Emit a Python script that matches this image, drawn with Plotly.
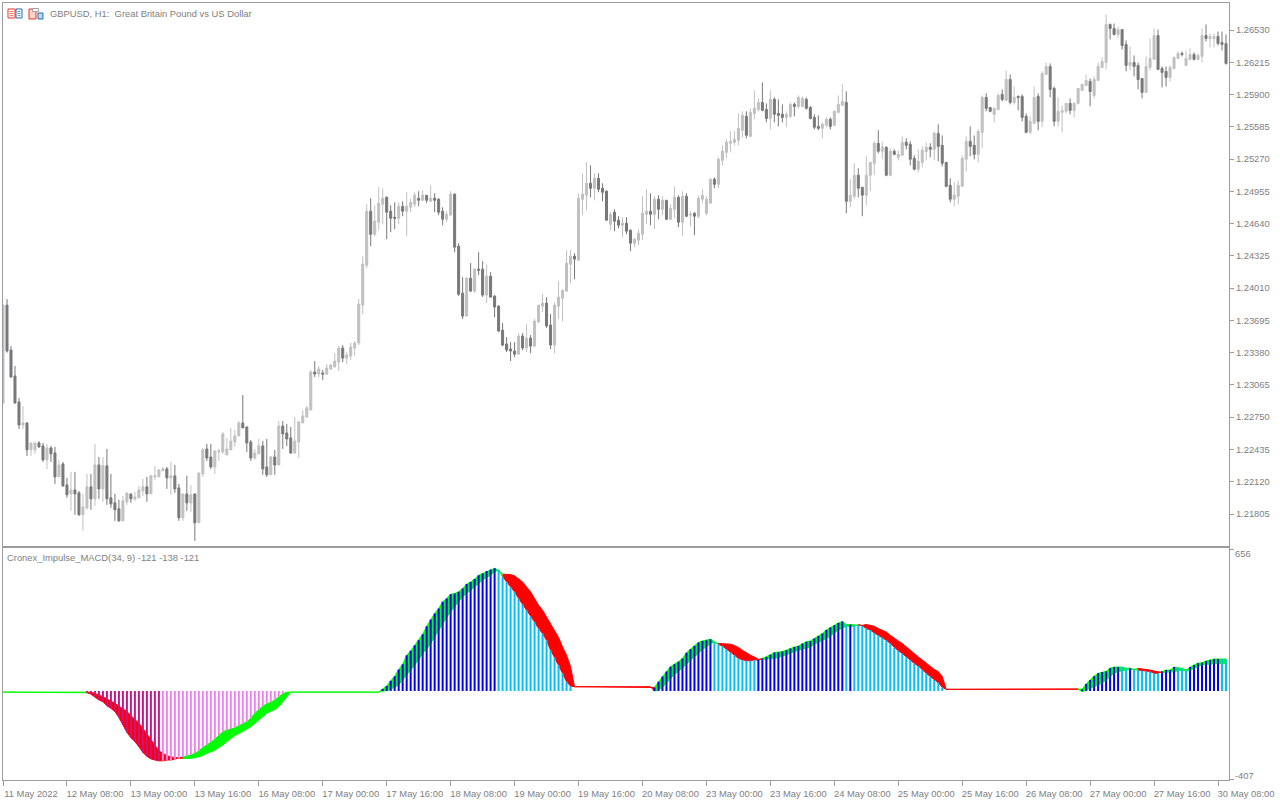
import plotly.graph_objects as go

# ---------- prices, in 1/100000 units ----------
high = [
123844,123903,123444,123250,122938,122860,122700,122499,122508,122518,
122499,122489,122470,122460,122333,122314,122158,122216,122216,122031,
122001,122196,122196,122489,122362,122362,122440,122196,122001,121943,
121982,122011,122001,122021,122080,122148,122167,122187,122275,122236,
122265,122265,122314,122284,122099,122001,122177,122089,122001,122206,
122450,122489,122489,122421,122440,122606,122548,122645,122625,122713,
122967,122655,122528,122440,122538,122518,122538,122372,122431,122713,
122713,122684,122655,122752,122713,122820,122860,123211,123298,123249,
123211,123269,123269,123376,123444,123454,123386,123474,123493,123903,
124322,124829,124887,124819,124995,124985,124907,124819,124848,124848,
124858,124946,124887,124946,124956,124965,124917,125014,124936,124887,
124800,124761,124956,124936,124449,124117,124117,124254,124205,124361,
124273,124244,124166,123942,123844,123669,123532,123483,123483,123571,
123571,123659,123552,123708,123844,123951,123922,123757,123874,124078,
123990,124380,124380,124351,124936,125128,125239,125209,125131,125131,
125034,124966,124751,124780,124712,124702,124702,124585,124497,124585,
124907,124975,124936,124907,124917,124907,124868,124829,125004,124917,
124956,124936,124761,124751,124917,124975,124907,125083,125092,125287,
125404,125463,125541,125541,125716,125736,125736,125765,125941,125862,
126018,125814,125941,125872,125853,125804,125736,125823,125823,125892,
125882,125872,125784,125707,125697,125628,125677,125677,125746,125892,
125999,125931,125073,125229,125180,124995,125297,125238,125443,125551,
125443,125394,125375,125365,125355,125492,125473,125443,125306,125365,
125394,125433,125424,125540,125609,125501,125238,125082,125043,125063,
125306,125492,125589,125501,125560,125891,125911,125774,125774,125911,
125950,126135,126096,125979,125891,125901,125716,125687,125979,125911,
126125,126213,126204,125979,125872,125794,125814,125862,125823,125960,
126008,126096,126057,126077,126213,126262,126681,126593,126593,126564,
126535,126428,126369,126281,126213,126057,126272,126447,126545,126535,
126174,126174,126184,126272,126320,126320,126330,126350,126311,126301,
126545,126584,126496,126496,126515,126515,126486]
body_top = [
123844,123844,123405,123152,122899,122694,122694,122499,122499,122499,
122470,122450,122450,122401,122284,122294,122089,122040,122040,122011,
121875,122070,122070,122284,122284,122275,122275,121963,121914,121855,
121933,122011,122001,121972,122040,122070,122070,122177,122177,122236,
122245,122245,122177,122177,122060,122001,122001,121992,122001,122206,
122431,122440,122362,122421,122421,122587,122440,122518,122567,122694,
122694,122655,122508,122401,122470,122470,122265,122362,122362,122664,
122664,122596,122548,122518,122704,122762,122840,123191,123191,123220,
123181,123230,123259,123298,123425,123425,123357,123435,123474,123854,
124244,124761,124761,124663,124839,124887,124897,124761,124702,124809,
124809,124809,124848,124917,124887,124917,124917,124887,124887,124878,
124761,124731,124927,124927,124420,123961,124107,124107,124195,124195,
124195,124127,124127,123932,123834,123600,123464,123415,123396,123542,
123542,123522,123522,123688,123844,123864,123864,123649,123844,123922,
123990,124254,124322,124322,124887,124927,125034,125034,125082,125082,
124985,124956,124731,124751,124673,124644,124644,124575,124488,124546,
124741,124761,124761,124878,124878,124868,124868,124790,124897,124897,
124907,124907,124731,124741,124887,124917,124878,125073,125073,125268,
125346,125434,125443,125463,125570,125697,125687,125726,125765,125823,
125823,125755,125853,125853,125716,125707,125707,125804,125804,125872,
125862,125853,125775,125677,125589,125609,125658,125658,125736,125804,
125833,125823,124917,125112,125112,124995,125112,125238,125424,125424,
125385,125385,125346,125346,125316,125434,125434,125414,125277,125248,
125355,125385,125385,125521,125521,125404,125238,125014,124917,125014,
125277,125443,125443,125404,125540,125872,125872,125774,125765,125891,
125901,126047,126047,125872,125882,125882,125687,125638,125872,125882,
126106,126174,126174,125960,125736,125745,125814,125814,125814,125960,
125999,126038,126028,126047,126174,126223,126584,126584,126545,126535,
126535,126389,126213,126213,126184,126057,126174,126252,126476,126476,
126155,126126,126165,126262,126301,126301,126252,126291,126291,126281,
126476,126476,126467,126467,126467,126408,126398]
body_bot = [
122886,123396,123142,122889,122674,122674,122431,122431,122431,122460,
122333,122333,122392,122167,122167,122080,121992,122001,122001,121797,
121797,121865,121953,121953,122050,122050,121953,121904,121846,121738,
121738,121924,121953,121953,121963,122031,122001,122001,122167,122167,
122226,122158,122158,122050,121768,121768,121914,121914,121719,121719,
122196,122352,122265,122265,122411,122411,122382,122431,122508,122567,
122645,122499,122352,122352,122392,122245,122187,122187,122284,122284,
122587,122538,122401,122401,122508,122694,122752,122820,123171,123171,
123171,123171,123220,123240,123288,123327,123327,123347,123425,123474,
123844,124234,124536,124536,124653,124829,124751,124692,124692,124692,
124761,124761,124800,124829,124868,124868,124868,124858,124868,124751,
124683,124683,124722,124410,123951,123737,123737,123981,123981,124185,
123942,123942,123922,123825,123591,123454,123405,123396,123366,123366,
123425,123425,123444,123444,123679,123834,123640,123454,123454,123834,
123912,123981,124244,124293,124283,124878,124917,124985,124985,124975,
124946,124673,124634,124663,124624,124624,124566,124449,124449,124478,
124537,124731,124731,124731,124780,124780,124683,124683,124780,124653,
124653,124712,124722,124712,124712,124878,124741,124839,125024,125024,
125258,125336,125424,125434,125453,125551,125502,125492,125716,125755,
125746,125667,125667,125707,125697,125677,125677,125687,125784,125784,
125784,125765,125667,125580,125570,125570,125599,125589,125599,125726,
125794,124858,124858,124907,124985,124917,124917,125112,125229,125346,
125346,125112,125112,125316,125287,125307,125404,125268,125170,125170,
125238,125345,125365,125365,125394,125229,125004,124878,124878,124907,
125004,125268,125394,125316,125316,125531,125765,125736,125706,125755,
125852,125843,125823,125823,125872,125677,125531,125531,125619,125638,
125638,126096,125950,125638,125638,125726,125736,125745,125745,125814,
125940,125989,125930,125891,126038,126165,126213,126545,126486,126486,
126379,126184,126184,126174,126047,125921,125921,126165,126243,126145,
126116,126067,126067,126155,126252,126291,126184,126243,126243,126243,
126272,126447,126447,126447,126398,126389,126203]
low = [
122886,123380,123136,122882,122635,122635,122372,122372,122392,122450,
122314,122245,122314,122099,122167,122070,121963,121836,121797,121787,
121641,121846,121846,121885,121953,121924,121894,121865,121738,121729,
121738,121894,121914,121933,121963,121982,121924,122001,122138,122167,
122226,122050,121992,122011,121738,121738,121836,121826,121543,121719,
122167,122323,122245,122196,122323,122392,122382,122431,122460,122567,
122645,122411,122323,122333,122392,122187,122167,122187,122187,122284,
122440,122470,122392,122392,122352,122694,122742,122820,123142,123142,
123113,123162,123211,123240,123201,123288,123269,123308,123347,123454,
123757,124205,124419,124517,124575,124634,124488,124556,124585,124634,
124712,124517,124751,124800,124809,124868,124839,124858,124751,124722,
124624,124653,124722,124361,123932,123708,123737,123971,123961,124137,
123922,123864,123922,123727,123581,123444,123386,123298,123337,123357,
123405,123386,123376,123435,123669,123776,123620,123415,123376,123708,
123688,123971,124059,124098,124273,124722,124770,124897,124868,124946,
124858,124673,124575,124566,124595,124507,124536,124371,124410,124429,
124478,124634,124624,124585,124683,124722,124673,124673,124692,124605,
124517,124702,124614,124527,124692,124839,124722,124839,124985,124985,
125209,125278,125336,125404,125404,125482,125473,125482,125658,125736,
125736,125628,125560,125628,125589,125628,125580,125667,125687,125765,
125775,125755,125658,125560,125551,125473,125580,125560,125599,125716,
125794,124741,124800,124878,124897,124712,124819,124956,125112,125326,
125268,125102,125102,125307,125258,125307,125365,125209,125160,125141,
125190,125258,125287,125258,125248,125199,124995,124848,124809,124829,
125004,125150,125297,125268,125238,125375,125736,125726,125628,125745,
125833,125843,125804,125804,125745,125638,125521,125511,125619,125550,
125579,126096,125872,125589,125589,125531,125716,125706,125677,125804,
125940,125989,125784,125862,126038,126165,126145,126438,126477,126457,
126340,126126,126135,126077,125950,125862,125921,126135,126243,126145,
125969,125979,126028,126145,126252,126272,126184,126233,126233,126233,
126213,126418,126360,126360,126379,126330,126193]
direction = ("UDDDDUDUUD" "DUDDUDDUDD" "UUDUDUDDDD" "UUDUUUDUUU" "UDUDDUDUDU" "UDDUUUUUUU"
             "DDDUUDDUDU" "DDDUUUUUDU" "DUUUUDUUUU" "UUDUUUDDDU" "DUUUDUDUDD" "DUUDDDUDUD"
             "DUDDDDDDDU" "DUDUUUDDUU" "UUUDUUUDUD" "DDUDDUDDUU" "UUDUDUDUUD" "UDUDUUUUDU"
             "UUUUUUDUUU" "DDUDDDUUDU" "UDDDDUUDUU" "UDUUDDUUUD" "UDUDUUDDDU" "UUDUDDDDUU"
             "UUDDUUDDUU" "DUDUDDDUUD" "UUDDUUUDUU" "UUDUUUUDDU" "DDUDDDUUUD" "DDUUUDUUDU"
             "UDUUDDD")

# ---------- indicator ----------
macd = ([-5]*21 +
 [-8,-14,-28,-41,-49,-68,-80,-95,-122,-157,-191,-216,-234,-258,-284,-302,-314,-319,-323,-323,
  -319,-319,-314,-312,-305,-302,-296,-288,-277,-261,-250,-237,-222,-204,-188,-181,-176,-170,-160,-152,
  -142,-126,-103,-86,-70,-59,-52,-41,-26,-13,-5] +
 [-5]*23 +
 [10,23,48,68,100,124,166,186,212,235,263,300,331,359,382,413,428,448,451,459,475,495,505,518,536,
  544,555,562,568,559,529,505,482,459,428,402,374,346,320,289,266,235,189,155,121,82,43,23,20] +
 [20]*19 +
 [17,43,67,90,113,124,136,151,177,194,208,225,232,235,240,228,216,208,194,178,166,151,144,140,140,
  144,144,151,158,168,178,180,183,189,197,204,208,220,228,232,243,255,266,282,294,305,315,322,308,308,
  305,305,302,289,282,269,258,248,235,220,202,186,174,158,144,128,116,97,82,67,51,39,17,8] +
 [8]*32 +
 [10,8,33,51,69,82,88,91,106,111,111,111,105,106,100,97,94,90,90,82,82,90,97,97,111,108,105,97,111,121,
  129,131,139,144,148,148,148,148])
signal = ([-5]*21 +
 [-5,-6,-11,-17,-26,-37,-46,-57,-70,-83,-95,-114,-131,-149,-173,-196,-224,-250,-277,-288,
  -299,-305,-308,-312,-312,-312,-312,-308,-302,-299,-288,-281,-274,-261,-250,-234,-220,-206,-197,-188,
  -176,-165,-149,-134,-119,-103,-93,-86,-72,-49,-31] +
 [-5]*23 +
 [0,2,8,17,28,51,74,94,121,144,174,193,220,251,279,312,340,367,390,413,436,451,467,485,498,
  513,526,536,552,559,541,541,539,533,521,505,482,459,428,397,374,343,312,279,248,204,166,113,20] +
 [20]*19 +
 [0,5,17,36,59,78,90,105,124,144,158,174,193,204,220,225,220,220,220,217,211,202,189,177,166,
  158,147,147,147,151,151,155,162,166,174,181,189,193,197,204,217,225,232,243,255,269,282,291,300,300,
  300,307,304,308,305,300,289,282,273,258,247,232,220,204,186,171,158,144,128,113,100,90,67,8] +
 [8]*32 +
 [8,-3,5,13,23,31,36,51,67,82,90,94,97,100,100,105,103,100,97,93,90,86,86,88,90,94,97,93,94,105,
  113,121,124,124,128,128,128,128])
# per-bar histogram state: . none, d falling below zero, v rising below zero, b rising above, l falling above
bar_state = ("."*21 + "d"*19 + "v"*31 + "."*24 + "b"*29 + "l"*19 + "."*20 + "b"*15 + "l"*11 + "b"*22 +
             "l" + "b" + "l"*23 + "."*34 + "b"*10 + "l"*2 + "b" + "l"*7 + "b"*4 + "l"*3 + "b"*8 + "l"*2)

tick_bars = list(range(0, 305, 16))
tick_labels = ["11 May 2022","12 May 08:00","13 May 00:00","13 May 16:00","16 May 08:00","17 May 00:00",
               "17 May 16:00","18 May 08:00","19 May 00:00","19 May 16:00","20 May 08:00","23 May 00:00",
               "23 May 16:00","24 May 08:00","25 May 00:00","25 May 16:00","26 May 08:00","27 May 00:00",
               "27 May 16:00","30 May 08:00"]
price_ticks = [1.26530,1.26215,1.25900,1.25585,1.25270,1.24955,1.24640,1.24325,1.24010,1.23695,
               1.23380,1.23065,1.22750,1.22435,1.22120,1.21805]
macd_ticks = [656, -407]

n = len(high)
assert all(len(a) == n for a in (low, body_top, body_bot, direction, macd, signal, bar_state)), \
    [len(a) for a in (high, low, body_top, body_bot, direction, macd, signal, bar_state)]

SCALE = 100000.0
opens = [(b if d == "U" else t)/SCALE for t, b, d in zip(body_top, body_bot, direction)]
closes = [(t if d == "U" else b)/SCALE for t, b, d in zip(body_top, body_bot, direction)]
highs = [v/SCALE for v in high]
lows = [v/SCALE for v in low]
xs = list(range(n))

GRAY = "#808080"
FRAME = "#9c9ca0"
FONT = "Liberation Sans"
FS = 9.4
W, H = 1280, 800
ML, MR, MT, MB = 2.5, 50.5, 2.5, 19.5
PW, PH = W-ML-MR, H-MT-MB
def px(x): return (x-ML)/PW
def py(y): return 1-(y-MT)/PH

fig = go.Figure()
fig.add_trace(go.Candlestick(
    x=xs, open=opens, high=highs, low=lows, close=closes, xaxis="x", yaxis="y",
    increasing=dict(line=dict(color="#c0c0c0", width=1), fillcolor="#c0c0c0"),
    decreasing=dict(line=dict(color="#787878", width=1), fillcolor="#787878"),
    whiskerwidth=0, showlegend=False, hoverinfo="skip"))

# band between the two indicator lines, split where its sign changes
side = []
cur = 1
for a, b in zip(macd, signal):
    if a > b: cur = 1
    elif a < b: cur = -1
    side.append(cur)
start = 0
for i in range(1, n+1):
    if i == n or side[i] != side[start]:
        end = min(i, n-1)
        col = "#00ff00" if side[start] > 0 else "#ff0000"
        seg = xs[start:end+1]
        fig.add_trace(go.Scatter(x=seg, y=signal[start:end+1], mode="lines", line=dict(color=col, width=1),
                                 xaxis="x2", yaxis="y2", showlegend=False, hoverinfo="skip"))
        fig.add_trace(go.Scatter(x=seg, y=macd[start:end+1], mode="lines", line=dict(color=col, width=1),
                                 fill="tonexty", fillcolor=col,
                                 xaxis="x2", yaxis="y2", showlegend=False, hoverinfo="skip"))
        start = i

state_colors = {"d": "#c71585", "v": "#ee82ee", "b": "#0000ff", "l": "#00bfff"}
for key, col in state_colors.items():
    idx = [i for i in xs if bar_state[i] == key]
    fig.add_trace(go.Bar(x=idx, y=[macd[i] for i in idx], width=0.5, marker=dict(color=col, line=dict(width=0)),
                         xaxis="x3", yaxis="y3", showlegend=False, hoverinfo="skip"))

axis_x = dict(range=[0, PW/4], showgrid=False, zeroline=False, showline=True, linecolor=FRAME, linewidth=1,
              mirror=True, fixedrange=True)
axis_y = dict(side="right", showgrid=False, zeroline=False, showline=True, linecolor=FRAME, linewidth=1,
              mirror=True, ticks="outside", ticklen=4, tickcolor=FRAME, fixedrange=True,
              tickfont=dict(family=FONT, size=FS, color=GRAY))
top_h = 544.0/PH
bot_h = 232.0/PH
macd_range = [-411.6, 660.6]

annotations = [
    dict(text="GBPUSD, H1:  Great Britain Pound vs US Dollar", xref="paper", yref="paper", x=px(48), y=py(13.5),
         xanchor="left", yanchor="middle", showarrow=False, font=dict(family=FONT, size=FS, color=GRAY)),
    dict(text="Cronex_Impulse_MACD(34, 9) -121 -138 -121", xref="paper", yref="paper", x=px(5), y=py(557.5),
         xanchor="left", yanchor="middle", showarrow=False, font=dict(family=FONT, size=FS, color=GRAY)),
    dict(text=str(macd_ticks[0]), xref="paper", yref="y2", x=px(1234), y=macd_ticks[0], yshift=-4,
         xanchor="left", yanchor="middle", showarrow=False, font=dict(family=FONT, size=FS, color=GRAY)),
    dict(text=str(macd_ticks[1]), xref="paper", yref="y2", x=px(1234), y=macd_ticks[1], yshift=4,
         xanchor="left", yanchor="middle", showarrow=False, font=dict(family=FONT, size=FS, color=GRAY)),
]

def box(x0, y0, x1, y1, fill=None, line=None, w=1):
    return dict(type="rect", xref="paper", yref="paper", x0=px(x0), x1=px(x1), y0=py(y0), y1=py(y1),
                fillcolor=fill if fill else "rgba(0,0,0,0)", line=dict(color=line if line else "rgba(0,0,0,0)", width=w))
R, B = "#e8392c", "#1f6fb4"
shapes = [
    box(7.5, 8.5, 14.5, 17.5, "#ffffff", R), box(15.5, 8.5, 21.5, 17.5, "#ffffff", B),
    box(9, 10.5, 13, 11.2, R), box(9, 12.7, 13, 13.4, R), box(9, 14.9, 13, 15.6, R),
    box(17, 10.5, 20, 11.2, B), box(17, 12.7, 20, 13.4, B), box(17, 14.9, 20, 15.6, B),
    box(28.5, 8.5, 35.5, 18.5, "#f9d5cc", R), box(37.5, 12.5, 42.5, 18.5, "#bcdcf2", B),
    box(32, 8, 38, 11, "#ffffff", "#a0a0a0"),
]

fig.update_layout(
    width=W, height=H, paper_bgcolor="#ffffff", plot_bgcolor="#ffffff",
    margin=dict(l=ML, r=MR, t=MT, b=MB, pad=0, autoexpand=False),
    barmode="overlay", boxgap=0.286, showlegend=False, dragmode=False,
    xaxis=dict(axis_x, domain=[0, 1], anchor="y", showticklabels=False, ticks="", rangeslider=dict(visible=False)),
    yaxis=dict(axis_y, domain=[1-top_h, 1], anchor="x",
               range=[(126818-9.75*546.5)/SCALE, (126818-9.75*2.5)/SCALE],
               tickmode="array", tickvals=price_ticks, tickformat=".5f"),
    xaxis2=dict(axis_x, domain=[0, 1], anchor="y2", ticks="outside", ticklen=5, tickcolor=FRAME,
                tickmode="array", tickvals=tick_bars, ticktext=tick_labels, tickangle=0, ticklabelshift=28,
                tickfont=dict(family=FONT, size=FS, color=GRAY)),
    yaxis2=dict(axis_y, domain=[0, bot_h], anchor="x2", range=macd_range,
                tickmode="array", tickvals=macd_ticks, showticklabels=False),
    # bars live on an overlaid axis pair so they paint above the filled band
    xaxis3=dict(range=[0, PW/4], domain=[0, 1], anchor="y3", overlaying="x2", visible=False, fixedrange=True),
    yaxis3=dict(range=macd_range, domain=[0, bot_h], anchor="x3", overlaying="y2", visible=False, fixedrange=True),
    annotations=annotations, shapes=shapes,
)
fig.write_html("out.html", config=dict(displayModeBar=False, staticPlot=True),
               post_script="document.body.style.margin='0';document.documentElement.style.overflow='hidden';")
